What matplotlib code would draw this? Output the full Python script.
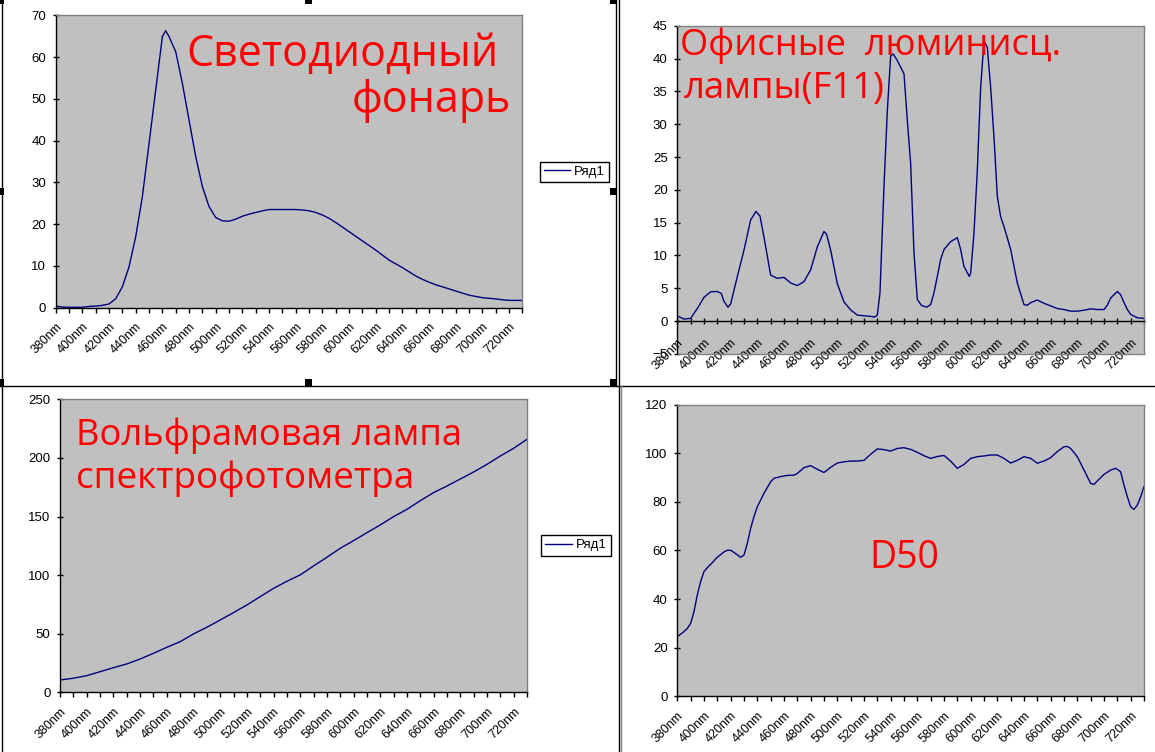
import matplotlib
matplotlib.use("Agg")
import matplotlib.pyplot as plt
from matplotlib.lines import Line2D
from matplotlib.patches import Rectangle

# ---------------- data ----------------
tick_wavelengths = [380, 390, 400, 410, 420, 430, 440, 450, 460, 470, 480, 490,
                    500, 510, 520, 530, 540, 550, 560, 570, 580, 590, 600, 610,
                    620, 630, 640, 650, 660, 670, 680, 690, 700, 710, 720, 730]
tick_labels = ['380nm', '', '400nm', '', '420nm', '', '440nm', '', '460nm', '',
               '480nm', '', '500nm', '', '520nm', '', '540nm', '', '560nm', '',
               '580nm', '', '600nm', '', '620nm', '', '640nm', '', '660nm', '',
               '680nm', '', '700nm', '', '720nm', '']

led_wl = [380, 385, 390, 395, 400, 405, 410, 415, 420, 425, 430, 435, 440, 445, 450,
          455, 460, 462.5, 465, 470, 475, 480, 485, 490, 495, 500, 505, 510, 515, 520,
          525, 530, 535, 540, 545, 550, 555, 560, 565, 570, 575, 580, 585, 590, 595,
          600, 605, 610, 615, 620, 625, 630, 635, 640, 645, 650, 655, 660, 665, 670,
          675, 680, 685, 690, 695, 700, 705, 710, 715, 720, 725, 730]
led_val = [0.4, 0.15, 0.1, 0.1, 0.1, 0.3, 0.4, 0.55, 0.9, 2.15, 5.0, 9.8, 17.0, 26.6, 39.3,
           52.1, 64.9, 66.3, 64.9, 61.3, 53.7, 44.9, 36.2, 29.0, 24.2, 21.6, 20.8, 20.7, 21.2, 21.9,
           22.4, 22.8, 23.2, 23.5, 23.5, 23.5, 23.5, 23.5, 23.4, 23.2, 22.8, 22.2, 21.4, 20.4, 19.3,
           18.2, 17.1, 16.0, 14.9, 13.8, 12.6, 11.4, 10.5, 9.6, 8.6, 7.6, 6.8, 6.1, 5.5, 5.0,
           4.5, 4.0, 3.5, 3.0, 2.7, 2.4, 2.25, 2.1, 1.9, 1.75, 1.75, 1.75]

f11_wl = [380, 385, 390, 395, 400, 405, 410, 413, 415, 418, 420, 425, 430, 435, 439, 442,
          445, 450, 455, 460, 465, 470, 475, 480, 485, 490, 492, 495, 500, 505, 510, 515,
          520, 525, 528, 530, 532, 535, 537.5, 540, 542, 545, 550, 552.5, 555, 557.5, 560,
          563, 567, 570, 572.5, 575, 577.5, 580, 585, 590, 592.5, 595, 599, 600, 602.5, 605,
          607.5, 610, 612.5, 615, 617.5, 620, 622.5, 625, 630, 635, 640, 642.5, 645, 650,
          655, 660, 665, 670, 675, 680, 685, 690, 695, 700, 702.5, 705, 710, 712.5, 715,
          717.5, 720, 725, 730]
f11_val = [0.76, 0.3, 0.4, 1.9, 3.6, 4.45, 4.5, 4.2, 3.0, 2.1, 2.6, 6.75, 10.8, 15.4, 16.7, 16.0,
           12.8, 7.0, 6.5, 6.65, 5.8, 5.4, 6.0, 7.8, 11.3, 13.65, 13.2, 10.8, 5.7, 2.9, 1.7, 0.9,
           0.8, 0.7, 0.6, 0.9, 4.3, 20.5, 32.0, 40.4, 40.7, 39.7, 37.7, 30.6, 24.0, 10.4, 3.3,
           2.4, 2.1, 2.5, 4.3, 6.8, 9.4, 10.9, 12.1, 12.7, 10.9, 8.3, 6.8, 7.3, 13.4, 23.0,
           35.6, 42.7, 41.7, 35.6, 28.0, 19.0, 15.9, 14.4, 10.9, 5.8, 2.5, 2.4, 2.8, 3.2,
           2.7, 2.3, 1.9, 1.75, 1.5, 1.5, 1.65, 1.85, 1.75, 1.75, 2.4, 3.5, 4.5, 4.0, 2.8,
           1.75, 1.0, 0.5, 0.4]

tung_wl = [380, 390, 400, 410, 420, 430, 440, 450, 460, 470, 480, 490, 500, 510, 520, 530,
           540, 550, 560, 570, 580, 590, 600, 610, 620, 630, 640, 650, 660, 670, 680, 690,
           700, 710, 720, 730]
tung_val = [10.5, 12.0, 14.2, 17.6, 21.0, 24.2, 28.4, 33.3, 38.4, 43.2, 49.8, 55.5, 61.7, 68.0,
            74.5, 81.6, 88.7, 94.7, 100.2, 107.8, 115.2, 122.9, 129.4, 136.2, 142.8, 149.9,
            156.1, 163.5, 170.4, 176.0, 182.0, 188.0, 194.5, 201.6, 208.2, 215.9]

d50_wl = [380, 385, 387.5, 390, 392.5, 395, 397.5, 400, 402.5, 405, 410, 415, 417.5, 420,
          422.5, 427.5, 430, 432.5, 435, 437.5, 440, 445, 450, 452.5, 457.5, 462.5, 467.5,
          470, 475, 480, 485, 490, 495, 500, 505, 510, 515, 520, 525, 530, 535, 540, 545,
          550, 555, 560, 565, 570, 575, 580, 585, 590, 595, 600, 605, 610, 615, 620, 625,
          630, 635, 640, 645, 650, 655, 660, 665, 670, 672.5, 675, 680, 685, 690, 692.5,
          695, 700, 705, 708.75, 712.5, 715, 717.5, 720, 722.5, 725, 727.5, 730]
d50_val = [24.5, 26.6, 27.9, 30.0, 34.8, 41.7, 47.2, 51.3, 52.9, 54.3, 57.2, 59.4, 60.1, 60.1,
           59.2, 57.2, 58.1, 62.9, 69.1, 73.9, 78.0, 83.5, 88.3, 89.7, 90.4, 90.9, 91.0,
           91.7, 94.1, 94.9, 93.4, 92.1, 94.2, 96.0, 96.5, 96.8, 96.8, 97.1, 99.6, 101.8,
           101.5, 100.9, 102.0, 102.3, 101.6, 100.4, 99.0, 97.9, 98.7, 99.1, 96.8, 93.8,
           95.4, 97.9, 98.6, 98.9, 99.3, 99.3, 97.9, 96.0, 97.1, 98.6, 97.9, 95.9, 96.8,
           98.2, 100.7, 102.7, 102.8, 102.0, 98.6, 93.1, 87.6, 87.2, 88.6, 91.3, 93.1, 93.8,
           92.4, 86.9, 82.1, 78.0, 76.9, 78.7, 82.1, 86.3]

series_name = 'Ряд1'
titles = {
    'led': ['Светодиодный', 'фонарь'],
    'f11': ['Офисные  люминисц.', 'лампы(F11)'],
    'tung': ['Вольфрамовая лампа', 'спектрофотометра'],
    'd50': ['D50'],
}

# ---------------- styling ----------------
W, H = 1155, 752
LINE_C = '#000080'
PLOT_BG = '#C0C0C0'
TICK_FONT = 'Liberation Sans'
TEXT_FONT = 'Open Sans'

fig = plt.figure(figsize=(W / 100, H / 100), dpi=100)
fig.patch.set_facecolor('white')


def px_axes(x0, y0, x1, y1):
    return fig.add_axes([x0 / W, 1 - y1 / H, (x1 - x0) / W, (y1 - y0) / H])


def style_axes(ax, ylim, ystep, xdir='out', xlen=3.6, xpad=6, xaxis_at=None):
    ax.set_facecolor(PLOT_BG)
    if xaxis_at is not None:
        ax.spines['bottom'].set_position(('data', xaxis_at))
    ax.set_xlim(380, 730)
    ax.set_ylim(*ylim)
    ax.set_yticks(list(range(ylim[0], ylim[1] + 1, ystep)))
    ax.set_xticks(tick_wavelengths)
    ax.set_xticklabels(tick_labels)
    for s in ('top', 'right'):
        ax.spines[s].set_color('#808080')
        ax.spines[s].set_linewidth(1.0)
    for s in ('left', 'bottom'):
        ax.spines[s].set_color('black')
        ax.spines[s].set_linewidth(1.0)
    ax.tick_params(axis='y', direction='inout', length=5, width=1.0, pad=4.5,
                   labelsize=9.5, colors='black')
    ax.tick_params(axis='x', direction=xdir, length=xlen, width=1.0, pad=xpad,
                   labelsize=9, colors='black')
    for lbl in ax.get_xticklabels():
        lbl.set_rotation(45)
        lbl.set_ha('right')
        lbl.set_va('top')
        lbl.set_rotation_mode('anchor')
        lbl.set_family(TICK_FONT)
    for lbl in ax.get_yticklabels():
        lbl.set_family(TICK_FONT)


def add_text(x, y, s, size):
    fig.text(x / W, 1 - y / H, s, fontsize=size, color='#FF0000',
             family=TEXT_FONT, ha='left', va='baseline')


# top-left: LED flashlight
ax1 = px_axes(55.7, 15.3, 522.4, 307.7)
style_axes(ax1, (0, 70), 10)
l1, = ax1.plot(led_wl, led_val, color=LINE_C, lw=1.0)

# top-right: F11 (x axis crosses at 0, plot area goes down to -5)
ax2 = px_axes(677.3, 25.8, 1144.0, 353.8)
style_axes(ax2, (-5, 45), 5, xdir='inout', xlen=5, xpad=9, xaxis_at=0)
ax2.axhline(-5, color='#808080', lw=1.0, clip_on=False)
ax2.plot(f11_wl, f11_val, color=LINE_C, lw=1.0)

# bottom-left: tungsten
ax3 = px_axes(60.1, 399.3, 527.0, 692.3)
style_axes(ax3, (0, 250), 50)
l3, = ax3.plot(tung_wl, tung_val, color=LINE_C, lw=1.0)

# bottom-right: D50
ax4 = px_axes(677.3, 404.7, 1144.0, 696.25)
style_axes(ax4, (0, 120), 20)
ax4.plot(d50_wl, d50_val, color=LINE_C, lw=1.0)

# legends
for handle, (lx, ly) in ((l1, (539.5, 161.5)), (l3, (541, 535))):
    leg = fig.legend([handle], [series_name], loc='upper left',
                     bbox_to_anchor=(lx / W, 1 - ly / H), bbox_transform=fig.transFigure,
                     frameon=True, fancybox=False, shadow=False,
                     handlelength=2.0, handletextpad=0.3, borderpad=0.32,
                     borderaxespad=0, prop={'family': TICK_FONT, 'size': 9.5})
    fr = leg.get_frame()
    fr.set_edgecolor('black')
    fr.set_linewidth(1.0)
    fr.set_facecolor('white')
    fr.set_alpha(1)

# red annotations
add_text(186, 66, titles['led'][0], 31)
add_text(352, 112, titles['led'][1], 31)
add_text(680, 54.5, titles['f11'][0], 26.1)
add_text(684, 98.5, titles['f11'][1], 26.3)
add_text(75.5, 444.5, titles['tung'][0], 26.2)
add_text(75.5, 488, titles['tung'][1], 26.6)
add_text(869.5, 567.5, titles['d50'][0], 27)

# chart object frames and selection handles
def fline(xs, ys, color='black', lw=1.0):
    fig.add_artist(Line2D([x / W for x in xs], [1 - y / H for y in ys],
                          color=color, lw=lw, transform=fig.transFigure))

fline([1.5, 1.5], [0, H])
fline([616, 616], [0, 386])
fline([618.5, 618.5], [0, H])
fline([0, W], [386, 386])
fline([620.5, 620.5], [386, H], color='#808080')

for hx, hy in ((0, 0), (308, 0), (613, 0), (0, 191), (613, 191),
               (0, 382), (308, 382), (613, 382)):
    fig.add_artist(Rectangle(((hx - 3.5) / W, 1 - (hy + 3.5) / H), 7 / W, 7 / H,
                             facecolor='black', edgecolor='none',
                             transform=fig.transFigure))

fig.savefig('out.png', dpi=100, facecolor='white')
